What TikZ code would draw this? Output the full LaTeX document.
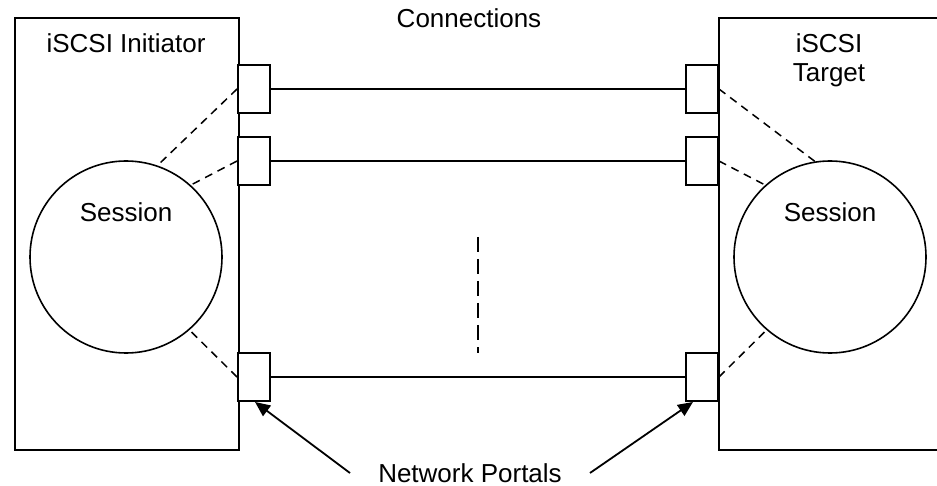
\documentclass[tikz,border=0pt]{standalone}
\usepackage{fontspec}
\setmainfont{Liberation Sans}
\usetikzlibrary{arrows.meta,calc}
\begin{document}
\begin{tikzpicture}[x=1pt,y=-1pt,
  box/.style={draw,line width=2pt,inner sep=0,anchor=north west},
  port/.style={draw,line width=1.9pt,minimum width=32pt,minimum height=48pt,inner sep=0,fill=white},
  sess/.style={draw,circle,line width=1.6pt,minimum size=192pt,inner sep=0},
  conn/.style={line width=1.9pt},
  link/.style={line width=1.5pt,dash pattern=on 8pt off 6pt},
  midlink/.style={line width=1.8pt,dash pattern=on 15pt off 7pt},
  lbl/.style={font=\fontsize{26}{29}\selectfont,inner sep=0,anchor=base},
  pointer/.style={line width=1.8pt,-{Triangle[length=15pt,width=13pt]}}]
\useasboundingbox (0,0) rectangle (937,486);
\clip (0,0) rectangle (937,486);

% boxes
\node[box,minimum width=224pt,minimum height=432pt] (ini) at (14,17) {};
\node[box,minimum width=260pt,minimum height=432pt] (tgt) at (718,17) {};

% sessions
\node[sess] (ls) at (126,257) {};
\node[sess] (rs) at (830,257) {};

% ports
\node[port] (lp1) at (254,89) {};
\node[port] (lp2) at (254,161) {};
\node[port] (lp3) at (254,377) {};
\node[port] (rp1) at (702,89) {};
\node[port] (rp2) at (702,161) {};
\node[port] (rp3) at (702,377) {};

% connections
\draw[conn] (lp1.east) -- (rp1.west);
\draw[conn] (lp2.east) -- (rp2.west);
\draw[conn] (lp3.east) -- (rp3.west);

% session links
\draw[link] (lp1.west) -- (ls.71);
\draw[link] (lp2.west) -- (ls.48);
\draw[link] (lp3.west) -- (ls.-49);
\draw[link] (rp1.east) -- (rs.99);
\draw[link] (rp2.east) -- (rs.132);
\draw[link] (rp3.east) -- (rs.229);

% middle ellipsis line
\coordinate (m1) at (478,237);
\coordinate (m2) at (478,353);
\draw[midlink] (m1) -- (m2);

% labels
\node[lbl] (conlbl) at (469,28) {Connections};
\node[lbl] (inilbl) at (126,53) {iSCSI Initiator};
\node[lbl] (lslbl) at (126,222) {Session};
\node[lbl] (tgtlbl1) at (829,53) {iSCSI};
\node[lbl] (tgtlbl2) at (829,82) {Target};
\node[lbl] (rslbl) at (830,222) {Session};
\node[lbl] (nplbl) at (470,482) {Network Portals};

% pointers
\coordinate (la) at (350,473);
\coordinate (ra) at (590,473);
\draw[pointer] (la) -- ([xshift=1pt]lp3.south);
\draw[pointer] (ra) -- ([xshift=-9pt]rp3.south);
\end{tikzpicture}
\end{document}
